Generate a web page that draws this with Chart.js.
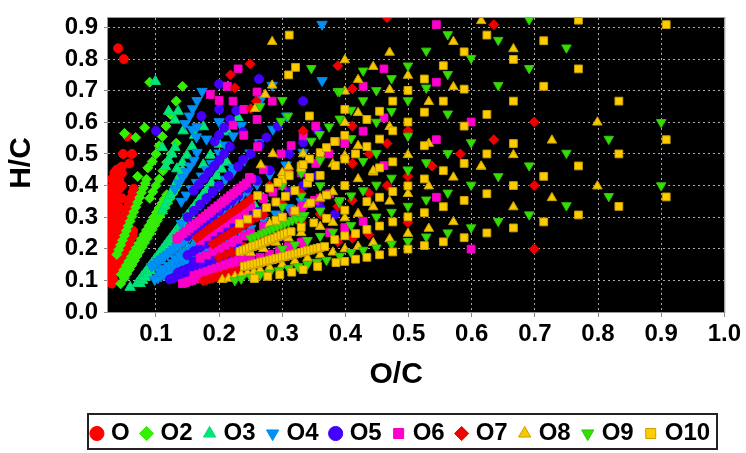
<!DOCTYPE html>
<html>
<head>
<meta charset="utf-8">
<script src="https://cdn.jsdelivr.net/npm/chart.js@4"></script>
<style>
    html, body { margin: 0; background: #fff; }
    canvas { display: block; }
</style>
</head>
<body>
<canvas id="chart" width="746" height="453"></canvas>
<script>
// ===============================
// Data: [O/C, H/C]
// ===============================
const xTicks = [0.1, 0.2, 0.3, 0.4, 0.5, 0.6, 0.7, 0.8, 0.9, 1.0];
const yTicks = [0, 0.1, 0.2, 0.3, 0.4, 0.5, 0.6, 0.7, 0.8, 0.9];
const seriesNames = ["O", "O2", "O3", "O4", "O5", "O6", "O7", "O8", "O9", "O10"];

const o1 = [[.03,.09],[.033,.1],[.025,.1],[.029,.116],[.033,.132],[.037,.148],[.041,.164],[.045,.18],[.049,.196],[.053,.212],[.057,.228],[.061,.244],[.064,.256],
    [.031,.112],[.035,.128],[.039,.144],[.043,.16],[.047,.176],[.051,.192],[.055,.208],[.059,.224],[.063,.24],
    [.03,.18],[.033,.198],[.036,.216],[.039,.234],[.042,.252],[.045,.27],[.048,.288],[.051,.306],[.054,.324],[.057,.342],[.06,.36],[.063,.378],[.065,.39],
    [.026,.12],[.026,.15],[.026,.18],[.026,.21],[.026,.24],[.026,.27],[.026,.3],[.026,.33],[.026,.36],[.026,.39],
    [.03,.12],[.03,.15],[.03,.21],[.03,.24],[.03,.27],[.03,.3],[.03,.33],[.03,.36],[.03,.39],[.03,.42],
    [.034,.17],[.034,.23],[.034,.26],[.034,.29],[.034,.32],[.034,.35],[.034,.38],[.034,.41],[.034,.44],
    [.038,.27],[.038,.3],[.038,.33],[.038,.36],[.038,.39],[.038,.42],[.038,.45],
    [.042,.3],[.042,.33],[.042,.36],[.042,.39],[.042,.42],[.042,.45],[.046,.36],[.046,.4],[.046,.44],[.046,.46],
    [.04,.834],[.049,.8],[.055,.555],[.048,.5],[.062,.5],[.058,.47],[.044,.456]];

const o2 = [[.044,.089],[.05,.107],[.054,.121],[.058,.135],[.062,.149],[.066,.163],[.07,.177],[.074,.191],[.078,.205],[.082,.219],[.086,.233],[.09,.247],[.094,.261],[.098,.275],[.102,.289],[.106,.303],[.11,.317],[.114,.331],[.118,.345],[.122,.359],[.126,.373],[.13,.387],[.134,.401],
    [.045,.119],[.049,.133],[.053,.147],[.057,.161],[.061,.175],[.065,.189],[.069,.203],[.073,.217],[.077,.231],[.081,.245],[.085,.259],[.089,.273],[.093,.287],[.097,.301],[.101,.315],[.105,.329],[.109,.343],[.113,.357],[.117,.371],
    [.052,.128],[.056,.142],[.06,.156],[.064,.17],[.068,.184],[.072,.198],[.076,.212],[.08,.226],[.084,.24],[.088,.254],[.092,.268],[.096,.282],[.1,.296],[.104,.31],
    [.09,.36],[.095,.38],[.1,.4],[.105,.42],[.111,.447],[.117,.474],[.124,.5],[.132,.534],
    [.038,.182],[.041,.197],[.044,.212],[.047,.227],[.05,.242],[.053,.257],[.056,.272],[.059,.287],[.062,.302],[.065,.317],[.068,.332],[.071,.347],[.074,.362],[.077,.377],[.08,.392],[.083,.407],[.085,.42],[.087,.456],
    [.094,.476],[.1,.5],[.105,.526],[.11,.555],[.116,.588],[.123,.625],[.132,.667],[.142,.714],
    [.071,.429],[.09,.727],[.082,.583],[.068,.552],[.05,.565]];

const o3 = [[.059,.078],[.07,.09],[.074,.101],[.078,.112],[.082,.122],[.086,.133],[.09,.144],[.094,.155],[.098,.166],[.102,.176],[.106,.187],[.11,.198],[.114,.209],[.118,.22],[.122,.23],[.126,.241],[.13,.252],[.134,.263],[.138,.274],[.142,.284],[.146,.295],[.15,.306],[.156,.322],[.162,.338],[.168,.354],[.174,.37],[.18,.386],[.188,.408],[.196,.43],[.204,.452],[.212,.474],
    [.075,.09],[.079,.1],[.083,.11],[.087,.12],[.091,.131],[.095,.142],[.099,.152],[.103,.163],[.107,.174],[.111,.185],[.115,.196],[.119,.206],[.123,.217],[.127,.228],[.131,.239],[.135,.25],[.139,.26],[.143,.271],
    [.14,.186],[.15,.2],[.16,.213],[.17,.226],[.18,.239],[.19,.253],[.2,.266],[.21,.28],[.222,.296],[.24,.32],[.255,.34],[.27,.36],
    [.11,.32],[.114,.336],[.118,.352],[.122,.368],[.126,.384],[.13,.4],[.134,.416],[.138,.432],[.142,.448],[.133,.453],[.142,.473],[.149,.496],[.157,.523],[.161,.559],[.175,.466],[.175,.586],[.186,.496],[.2,.531],[.213,.57],
    [.115,.46],[.12,.48],[.125,.5],[.13,.52],[.143,.573],[.13,.607],[.12,.635],[.135,.635],[.11,.52],[.099,.729],[.214,.712],[.23,.615]];

const o4 = [[.093,.144],[.098,.152],[.103,.16],[.108,.168],[.113,.175],[.118,.183],[.123,.191],[.128,.199],[.133,.207],[.138,.214],[.143,.222],[.148,.23],[.153,.238],[.158,.245],[.163,.253],[.168,.261],[.173,.269],[.178,.277],[.183,.284],[.188,.292],[.193,.3],[.198,.308],[.203,.316],[.208,.324],[.215,.335],[.225,.35],[.235,.366],[.245,.381],[.26,.404],[.28,.435],
    [.098,.103],[.103,.108],[.108,.114],[.113,.119],[.118,.125],[.123,.13],[.128,.136],[.133,.141],[.138,.147],[.143,.152],[.148,.158],[.153,.163],[.158,.169],[.163,.174],[.168,.18],[.173,.185],[.178,.191],[.183,.196],[.188,.201],[.193,.207],[.198,.212],[.203,.218],[.209,.224],[.22,.236],[.235,.25],[.25,.265],[.27,.29],[.29,.31],[.31,.33],[.33,.35],
    [.105,.13],[.112,.138],[.119,.147],[.126,.156],[.133,.164],[.14,.173],[.147,.181],[.154,.19],[.161,.198],[.168,.207],[.175,.215],[.182,.224],
    [.13,.17],[.137,.179],[.144,.188],[.151,.197],[.158,.206],[.165,.215],[.172,.224],[.179,.233],[.186,.242],[.193,.251],[.2,.26],
    [.14,.28],[.15,.3],[.16,.32],[.17,.34],[.18,.36],[.19,.38],[.2,.4],[.21,.42],[.222,.444],[.24,.48],
    [.14,.35],[.148,.37],[.156,.39],[.164,.41],[.172,.43],[.18,.45],[.188,.47],[.2,.503],[.21,.528],[.222,.557],[.235,.59],[.249,.503],
    [.13,.39],[.136,.408],[.142,.426],[.148,.444],[.154,.462],[.16,.48],[.165,.505],[.18,.547],[.2,.602],[.222,.456],
    [.146,.596],[.153,.62],[.158,.643],[.165,.669],[.173,.698],[.157,.578],[.164,.554],[.165,.586],[.266,.672],[.284,.717],[.307,.62],[.285,.578],[.264,.536],[.333,.505],[.306,.465],[.363,.91],[.363,.732]];

const o5 = [[.122,.103],[.127,.107],[.132,.111],[.137,.115],[.142,.119],[.147,.123],[.152,.127],[.157,.131],[.162,.135],[.167,.139],[.172,.143],[.177,.147],[.182,.151],[.187,.155],[.192,.159],[.197,.163],[.202,.167],[.207,.171],[.212,.175],[.217,.179],[.222,.183],[.227,.187],[.232,.19],
    [.135,.125],[.142,.131],[.149,.136],[.156,.142],[.163,.147],[.17,.153],[.177,.158],[.184,.164],[.191,.17],[.198,.176],[.205,.182],[.212,.188],[.219,.194],[.226,.2],
    [.16,.16],[.17,.168],[.18,.176],[.19,.184],[.2,.192],[.21,.2],[.22,.208],[.23,.216],
    [.15,.18],[.16,.192],[.17,.204],[.18,.216],[.19,.228],[.2,.24],[.21,.252],[.22,.264],[.23,.276],[.24,.288],[.25,.3],[.26,.312],[.27,.324],[.29,.348],
    [.15,.24],[.16,.256],[.17,.272],[.18,.288],[.19,.304],[.2,.32],[.21,.336],[.22,.352],[.23,.368],[.245,.392],[.26,.416],[.28,.448],
    [.15,.3],[.16,.32],[.17,.34],[.18,.36],[.19,.38],[.2,.4],[.215,.43],[.23,.46],[.25,.5],
    [.16,.384],[.168,.403],[.176,.422],[.184,.442],[.192,.461],[.2,.48],[.217,.523],[.238,.569],
    [.2,.721],[.263,.737],[.333,.667],[.2,.641],[.172,.62],[.227,.637],[.217,.609],[.1,.573],[.208,.583],[.293,.588],[.356,.573],[.2,.56],[.193,.539],[.275,.552],[.333,.536],[.208,.5],[.264,.528],[.311,.5],[.238,.482],
    [.383,.308],[.333,.4],[.356,.431],[.311,.379],[.261,.316],[.36,.33],[.33,.31],[.3,.3],[.3,.24]];

const o6 = [[.142,.09],[.147,.093],[.152,.097],[.157,.1],[.162,.104],[.167,.107],[.172,.11],[.177,.114],[.182,.117],[.187,.121],[.192,.124],[.197,.127],[.202,.131],[.207,.134],[.212,.138],[.217,.141],[.222,.144],[.227,.148],[.232,.151],[.237,.155],[.242,.158],[.25,.163],[.265,.173],[.28,.183],[.295,.193],[.31,.207],[.33,.22],
    [.16,.115],[.167,.119],[.174,.124],[.181,.129],[.188,.134],[.195,.139],[.202,.144],[.209,.149],[.216,.154],[.223,.159],[.23,.164],[.237,.169],
    [.133,.232],[.138,.24],[.143,.248],[.148,.256],[.153,.264],[.158,.272],[.163,.28],[.168,.288],[.173,.296],[.178,.304],[.183,.312],[.188,.32],[.193,.328],[.198,.336],[.203,.344],[.208,.352],[.213,.36],[.218,.368],[.223,.376],[.228,.384],[.233,.392],[.238,.4],[.243,.408],[.251,.421],[.27,.45],
    [.17,.17],[.18,.18],[.19,.19],[.2,.2],[.21,.21],[.22,.22],[.23,.23],[.24,.24],[.25,.25],[.27,.27],[.3,.3],[.33,.33],[.36,.36],
    [.17,.226],[.18,.239],[.19,.253],[.2,.266],[.21,.279],[.22,.293],[.23,.306],[.24,.319],[.25,.333],[.27,.359],[.3,.4],[.33,.44],
    [.23,.769],[.186,.688],[.2,.669],[.222,.667],[.26,.696],[.213,.714],[.284,.667],[.239,.641],[.26,.609],[.222,.591],[.239,.559],[.333,.557],[.353,.588],[.314,.526],[.298,.5],[.261,.523],[.374,.5],[.353,.47],
    [.544,.909],[.461,.769],[.544,.727],[.428,.714],[.461,.614],[.599,.601],[.428,.572],[.544,.545],[.399,.533],[.461,.463],
    [.544,.363],[.428,.287],[.399,.267],[.375,.251],[.599,.199],[.375,.374],[.351,.353],[.333,.222],[.317,.316],[.285,.379],[.248,.426],[.333,.337]];

const o7 = [[.175,.098],[.18,.101],[.185,.104],[.19,.107],[.195,.11],[.2,.113],[.205,.116],[.21,.119],[.215,.122],[.22,.125],[.225,.128],[.23,.13],[.235,.132],[.24,.135],
    [.165,.235],[.17,.242],[.175,.249],[.18,.257],[.185,.264],[.19,.271],[.195,.278],[.2,.285],[.205,.292],[.21,.299],[.215,.307],[.22,.314],[.225,.321],[.23,.328],[.235,.335],[.24,.342],[.245,.35],[.251,.358],[.28,.4],[.31,.443],
    [.19,.215],[.196,.222],[.202,.23],[.208,.237],[.214,.244],[.22,.252],[.226,.259],[.232,.266],[.238,.273],[.244,.281],[.25,.288],[.26,.3],[.27,.308],[.3,.342],[.33,.376],
    [.2,.172],[.21,.181],[.22,.189],[.24,.206],[.27,.232],[.3,.258],[.33,.284],[.36,.31],
    [.249,.785],[.218,.75],[.225,.709],[.259,.667],[.25,.643],[.333,.573],
    [.466,.931],[.635,.909],[.388,.779],[.411,.706],[.699,.601],[.411,.588],[.499,.573],[.635,.545],[.466,.533],[.582,.5],[.438,.5],[.411,.47],[.537,.462],
    [.699,.4],[.499,.429],[.466,.4],[.437,.376],[.411,.353],[.388,.334],[.499,.283],[.437,.245],[.411,.233],[.388,.222],[.699,.199]];

const o8 = [[.205,.102],[.215,.106],[.225,.112],[.235,.117],[.245,.122],[.255,.127],[.265,.132],[.28,.14],[.3,.15],[.32,.16],[.34,.17],[.36,.18],[.38,.189],[.399,.199],[.42,.207],[.444,.219],[.47,.231],[.499,.248],[.532,.264],[.571,.285],[.666,.332],[.727,.361],[.799,.398],
    [.25,.187],[.27,.2],[.29,.22],[.31,.233],[.33,.25],[.36,.27],[.38,.283],[.399,.297],[.42,.311],[.444,.332],[.47,.35],[.499,.374],[.532,.398],[.571,.426],[.615,.46],
    [.28,.28],[.3,.3],[.32,.32],[.34,.34],[.36,.36],[.38,.38],[.3,.44],[.31,.46],[.333,.5],[.42,.421],[.444,.442],[.38,.468],[.399,.494],
    [.284,.855],[.285,.5],[.266,.465],[.257,.643],[.273,.688],[.284,.717],
    [.615,.921],[.571,.855],[.666,.832],[.47,.821],[.399,.797],[.444,.776],[.499,.748],[.42,.735],[.571,.712],[.47,.703],[.399,.698],[.532,.665],[.42,.63],[.399,.599],[.47,.586],[.799,.6],[.727,.543],[.532,.533],[.42,.526],[.666,.497],[.499,.497],[.615,.461],[.444,.447]];

const o9 = [[.225,.1],[.235,.105],[.25,.111],[.265,.118],[.28,.124],[.295,.131],[.31,.138],[.325,.144],[.34,.151],[.355,.158],[.37,.164],[.391,.177],[.409,.189],[.428,.196],[.449,.203],[.473,.215],[.499,.224],[.528,.238],[.562,.251],[.599,.267],[.642,.287],[.691,.308],[.75,.337],[.817,.366],[.9,.4],
    [.25,.233],[.256,.238],[.262,.243],[.268,.248],[.274,.254],[.28,.259],[.286,.264],[.292,.27],[.298,.275],[.304,.28],[.31,.285],[.316,.29],[.322,.295],[.328,.3],[.335,.306],
    [.3,.2],[.32,.213],[.34,.227],[.36,.24],[.38,.253],
    [.33,.293],[.36,.32],[.39,.347],[.409,.368],[.428,.384],[.449,.402],[.473,.424],[.499,.45],
    [.3,.333],[.33,.367],[.36,.4],[.391,.353],[.409,.274],[.449,.301],[.473,.316],[.499,.335],[.528,.355],[.562,.377],[.599,.402],[.642,.429],[.691,.463],[.75,.503],[.817,.547],[.9,.6],
    [.3,.4],[.33,.44],[.36,.48],
    [.346,.771],[.3,.67],[.309,.62],[.374,.586],[.359,.562],[.346,.541],[.265,.651],[.298,.604],[.388,.698],
    [.691,.925],[.642,.86],[.562,.878],[.75,.836],[.528,.826],[.599,.803],[.499,.779],[.691,.771],[.428,.763],[.473,.739],[.562,.752],[.528,.709],[.642,.717],[.391,.698],[.449,.701],[.499,.669],[.428,.669],[.473,.635],[.409,.639],[.562,.627],[.391,.611],[.449,.601],[.499,.557],[.409,.549],[.599,.536],[.449,.502],[.562,.502],[.528,.473],[.428,.477],[.499,.449]];

const o10 = [[.256,.106],[.277,.113],[.296,.118],[.315,.126],[.333,.134],[.356,.144],[.385,.156],[.399,.16],[.416,.167],[.434,.173],[.454,.181],[.475,.19],[.499,.199],[.525,.21],[.555,.222],[.588,.235],[.624,.25],[.666,.266],[.714,.285],[.769,.307],[.833,.334],[.908,.364],
    [.24,.144],[.245,.146],[.25,.149],[.255,.151],[.26,.154],[.265,.156],[.27,.159],[.275,.161],[.28,.164],[.285,.166],[.29,.169],[.295,.171],[.3,.174],[.305,.176],[.31,.179],[.315,.181],[.32,.184],[.325,.186],[.33,.189],[.335,.191],[.34,.194],[.345,.196],[.35,.199],[.355,.201],[.36,.204],[.367,.207],[.383,.229],[.399,.241],[.416,.248],[.434,.261],[.454,.272],[.475,.285],[.499,.301],[.525,.314],[.555,.333],[.588,.353],[.624,.374],[.666,.4],[.714,.429],[.769,.462],[.833,.5],[.908,.545],
    [.233,.191],[.238,.195],[.243,.199],[.248,.203],[.253,.207],[.258,.21],[.263,.214],[.268,.218],[.273,.222],[.278,.226],[.283,.23],[.288,.234],[.293,.238],[.298,.242],[.303,.246],[.308,.25],[.314,.254],[.33,.268],[.35,.282],[.37,.296],[.399,.322],[.434,.349],[.454,.363],[.475,.381],[.499,.399],[.525,.421],
    [.29,.29],[.3,.3],[.32,.32],[.345,.345],[.37,.37],[.399,.4],
    [.232,.28],[.245,.294],[.26,.312],[.275,.33],[.29,.348],[.305,.366],[.32,.384],[.34,.408],[.36,.432],
    [.261,.368],[.28,.392],[.3,.42],[.31,.434],[.33,.462],[.36,.504],[.293,.41],[.311,.431],[.33,.457],[.343,.426],
    [.311,.876],[.321,.774],[.31,.75],[.343,.62],[.384,.539],[.37,.52],[.343,.484],[.333,.466],[.384,.463],
    [.624,.876],[.714,.858],[.588,.823],[.666,.799],[.555,.779],[.525,.737],[.588,.705],[.499,.701],[.714,.714],[.475,.667],[.555,.667],[.666,.667],[.525,.632],[.624,.625],[.399,.641],[.454,.635],[.434,.609],[.499,.601],[.588,.588],[.475,.573],[.399,.559],[.383,.539],[.454,.547],[.525,.526],[.666,.533],[.434,.523],[.416,.5],[.624,.5],[.399,.484],[.475,.475],[.588,.47],[.454,.456],[.555,.447],
    [.769,.923],[.769,.769],[.833,.667],[.908,.909]];

const seriesData = [o1, o2, o3, o4, o5, o6, o7, o8, o9, o10];

// ===============================
// Marker styles
// ===============================
const fillColors = ["#ff0000", "#33f000", "#00e878", "#0090f8", "#4400ff", "#ff00cc", "#f00000", "#f5c800", "#33e000", "#ffcc00"];
const edgeColors = ["#ff0000", "#38e810", "#00d878", "#0088e8", "#4000f0", "#f000c0", "#e80000", "#c8a000", "#30c010", "#c8a000"];
const pointStyles = ["circle", "rectRot", "triangle", "triangle", "circle", "rect", "rectRot", "triangle", "triangle", "rect"];
const pointRotations = [0, 0, 0, 180, 0, 0, 0, 0, 180, 0];
const pointSizes = [4.5, 5, 6, 6, 4.5, 5.5, 5, 5.5, 5.5, 5.5];

// lineHeight 1 keeps the tick labels from pushing the plot area inwards
const boldFont = size => ({ family: "'Liberation Sans', Arial, sans-serif", size: size, weight: "bold", lineHeight: 1 });

// The reference has its axis titles off the centre of the plot
const shiftTitle = (scale, dx, dy) => {
    if (scale.titleShifted) return;
    scale.titleShifted = true;
    const draw = scale.drawTitle;
    scale.drawTitle = function () {
        this.left += dx; this.right += dx; this.top += dy; this.bottom += dy;
        draw.call(this);
        this.left -= dx; this.right -= dx; this.top -= dy; this.bottom -= dy;
    };
};

// ===============================
// Black plot background and legend frame
// ===============================
const frame = {
    id: "frame",
    beforeDraw(chart) {
        const a = chart.chartArea;
        chart.ctx.fillStyle = "#000";
        chart.ctx.fillRect(a.left, a.top, a.width, a.height);
    },
    afterLayout(chart) {
        // the legend sits lower and further right than the layout can place it
        const lg = chart.legend;
        const h = lg.height;
        lg.top = 431 - h / 2;
        lg.bottom = lg.top + h;
        lg.left += 40;
        lg.right += 40;
    },
    afterDraw(chart) {
        const ctx = chart.ctx;
        const a = chart.chartArea;
        ctx.strokeStyle = "#999";
        ctx.lineWidth = 1;
        ctx.strokeRect(a.left - 0.5, a.top - 0.5, a.width + 1, a.height + 1);
        ctx.strokeStyle = "#222";
        ctx.lineWidth = 2;
        ctx.strokeRect(88, 414, 629, 35);
    }
};

// ===============================
// Chart
// ===============================
new Chart(document.getElementById("chart"), {
    type: "scatter",
    data: {
        datasets: seriesNames.map((name, i) => ({
            label: name,
            data: seriesData[i].map(p => ({ x: p[0], y: p[1] })),
            order: 10 - i, // later series on top
            backgroundColor: fillColors[i],
            borderColor: edgeColors[i],
            borderWidth: 1,
            pointStyle: pointStyles[i],
            pointRotation: pointRotations[i],
            pointRadius: pointSizes[i]
        }))
    },
    plugins: [frame],
    options: {
        responsive: false,
        animation: false,
        layout: { padding: { top: 14, right: 21 } },
        plugins: {
            tooltip: { enabled: false },
            legend: {
                position: "bottom",
                labels: {
                    usePointStyle: true,
                    boxWidth: 4,
                    boxHeight: 10,
                    padding: 15,
                    color: "#000",
                    font: boldFont(24),
                    sort: (a, b) => a.datasetIndex - b.datasetIndex
                }
            }
        },
        scales: {
            x: {
                min: 0.024,
                max: 1,
                afterBuildTicks: s => { s.ticks = xTicks.map(v => ({ value: v })); },
                afterFit: s => { s.height = 92; shiftTitle(s, -20, 0); },
                grid: { color: "#aaa", tickColor: "#888", tickLength: 5 },
                border: { display: false, dash: [2, 3] },
                ticks: { color: "#000", font: boldFont(24), padding: 5, maxRotation: 0, autoSkip: false, callback: v => v.toFixed(1) },
                title: { display: true, text: "O/C", color: "#000", font: boldFont(30), padding: { top: 0, bottom: 14 } }
            },
            y: {
                min: 0,
                max: 0.93,
                afterBuildTicks: s => { s.ticks = yTicks.map(v => ({ value: v })); },
                afterFit: s => { s.width = 108; shiftTitle(s, 0, -2); },
                grid: { color: "#aaa", tickColor: "#888", tickLength: 4 },
                border: { display: false, dash: [2, 3] },
                ticks: { color: "#000", font: boldFont(24), padding: 6, autoSkip: false, callback: v => v.toFixed(1) },
                title: { display: true, text: "H/C", color: "#000", font: boldFont(30), padding: { top: 7, bottom: 0 } }
            }
        }
    }
});
</script>
</body>
</html>
